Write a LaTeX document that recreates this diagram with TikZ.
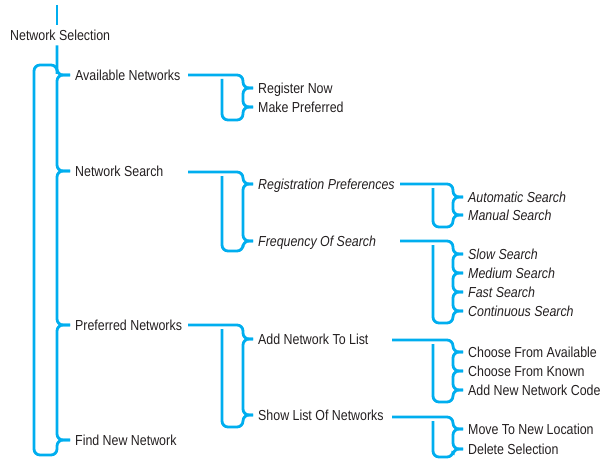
\documentclass[tikz,border=0pt]{standalone}
\usepackage{fontspec}
\setmainfont[FakeStretch=0.855]{Liberation Sans}
\definecolor{cy}{RGB}{0,174,239}
\definecolor{ink}{RGB}{35,31,32}
\begin{document}
\begin{tikzpicture}[x=1pt,y=-1pt,
  ln/.style={draw=cy, line width=2.8pt, rounded corners=6pt},
  lbl/.style={anchor=west, inner sep=0pt, text height=10.3pt, text depth=0pt, text=ink, font=\fontsize{14.5}{16}\selectfont},
  itl/.style={lbl, font=\fontsize{14.5}{16}\selectfont\itshape}]
\useasboundingbox (0,0) rectangle (603,460);
% labels
\node[lbl] (ns)  at (10,35)  {Network Selection};
\node[lbl] (an)  at (75,75)  {Available Networks};
\node[lbl] (nse) at (75,171) {Network Search};
\node[lbl] (pn)  at (75,325) {Preferred Networks};
\node[lbl] (fnn) at (75,440) {Find New Network};
\node[lbl] (rn)  at (258,88)  {Register Now};
\node[lbl] (mp)  at (258,107) {Make Preferred};
\node[itl] (rp)  at (258,184) {Registration Preferences};
\node[itl] (fos) at (258,241) {Frequency Of Search};
\node[lbl] (anl) at (258,339) {Add Network To List};
\node[lbl] (sln) at (258,415) {Show List Of Networks};
\node[itl] (aus) at (468,197) {Automatic Search};
\node[itl] (mas) at (468,215) {Manual Search};
\node[itl] (sls) at (468,254) {Slow Search};
\node[itl] (mds) at (468,273) {Medium Search};
\node[itl] (fas) at (468,292) {Fast Search};
\node[itl] (cos) at (468,311) {Continuous Search};
\node[lbl] (cfa) at (468,352) {Choose From Available};
\node[lbl] (cfk) at (468,371) {Choose From Known};
\node[lbl] (anc) at (468,390) {Add New Network Code};
\node[lbl] (mtl) at (468,429) {Move To New Location};
\node[lbl] (dsl) at (468,449) {Delete Selection};
% level 0
\coordinate (top0) at (57,5);
\draw[ln] (top0) -- ([yshift=5pt]ns.north -| top0);
\draw[ln] ([yshift=-5pt]ns.south -| top0) |- (70,75);
\draw[ln] (70,75) -| (57,171) -- (70,171);
\draw[ln] (70,171) -| (57,325) -- (70,325);
\draw[ln] (70,325) -| (57,440) -- (70,440);
\draw[ln] (70,440) -| (57,455) -- (34,455) -- (34,65) -- (57,65) -- (57,74);
% level 1: Available Networks
\draw[ln] (188,75) -| (243,88) -- (253,88);
\draw[ln] (253,88) -| (243,107) -- (253,107);
\draw[ln] (253,107) -| (243,120) -- (222,120) -- (222,79);
% Network Search
\draw[ln] (188,172) -| (243,184) -- (253,184);
\draw[ln] (253,184) -| (243,241) -- (253,241);
\draw[ln] (253,241) -| (243,251) -- (222,251) -- (222,176);
% Preferred Networks
\draw[ln] (188,325) -| (243,339) -- (253,339);
\draw[ln] (253,339) -| (243,415) -- (253,415);
\draw[ln] (253,415) -| (243,427) -- (222,427) -- (222,329);
% level 2: Registration Preferences
\draw[ln] (400,184) -| (453,197) -- (463,197);
\draw[ln] (463,197) -| (453,215) -- (463,215);
\draw[ln] (463,215) -| (453,227) -- (433,227) -- (433,188);
% Frequency Of Search
\draw[ln] (400,241) -| (453,254) -- (463,254);
\draw[ln] (463,254) -| (453,273) -- (463,273);
\draw[ln] (463,273) -| (453,292) -- (463,292);
\draw[ln] (463,292) -| (453,311) -- (463,311);
\draw[ln] (463,311) -| (453,323) -- (433,323) -- (433,245);
% Add Network To List
\draw[ln] (392,340) -| (453,352) -- (463,352);
\draw[ln] (463,352) -| (453,371) -- (463,371);
\draw[ln] (463,371) -| (453,390) -- (463,390);
\draw[ln] (463,390) -| (453,402) -- (433,402) -- (433,344);
% Show List Of Networks
\draw[ln] (392,417) -| (453,429) -- (463,429);
\draw[ln] (463,429) -| (453,449) -- (463,449);
\draw[ln] (463,449) -| (453,457) -- (433,457) -- (433,421);
\end{tikzpicture}
\end{document}
